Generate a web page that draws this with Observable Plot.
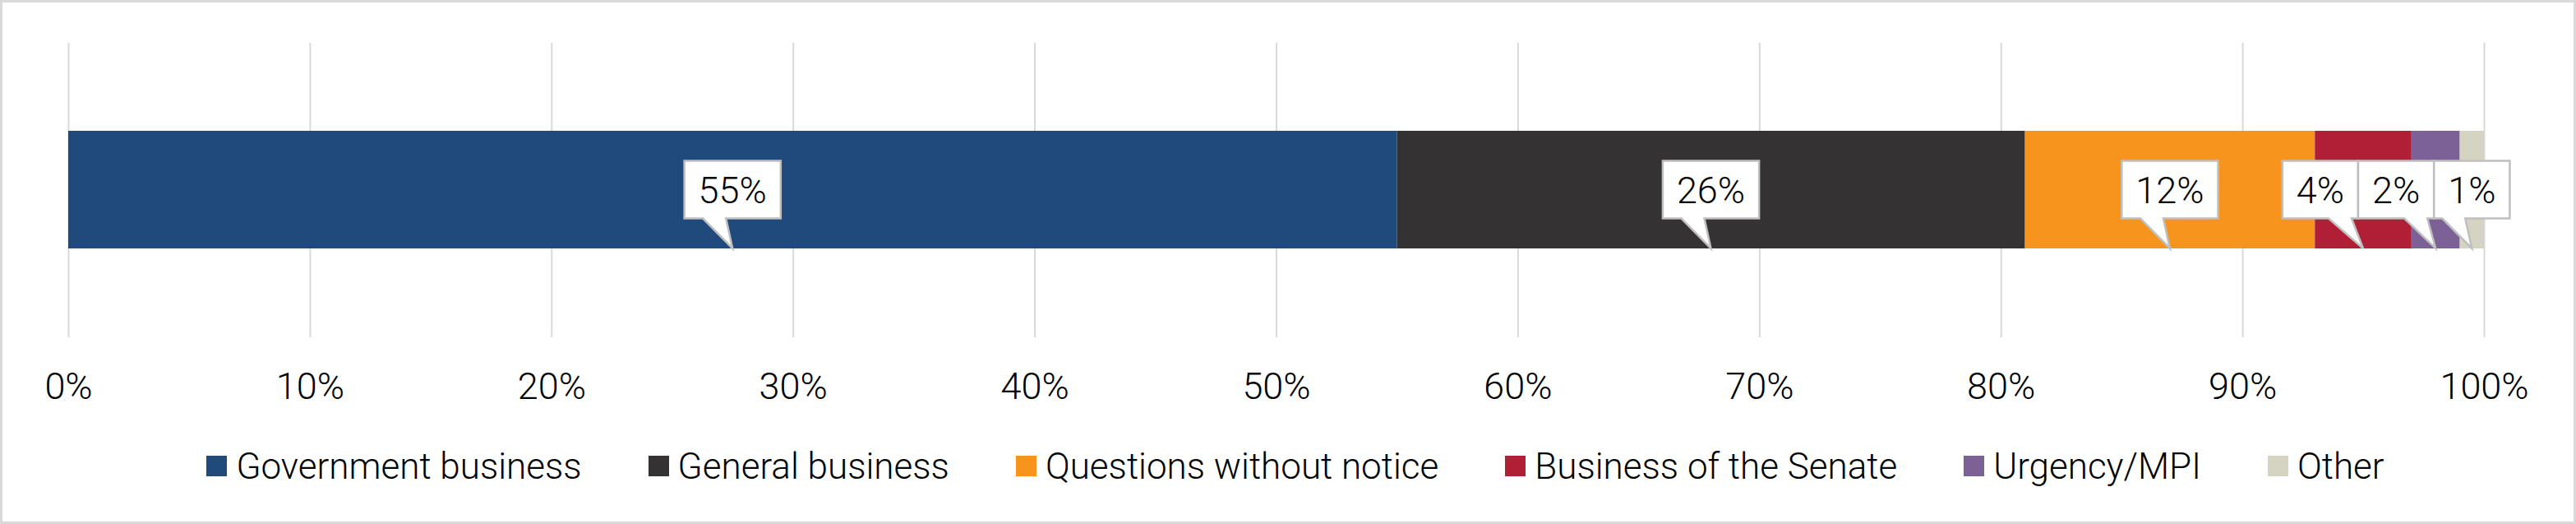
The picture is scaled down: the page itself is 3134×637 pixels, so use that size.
<!DOCTYPE html>
<html>
<head>
<meta charset="utf-8">
<script src="https://cdn.jsdelivr.net/npm/d3@7"></script>
<script src="https://cdn.jsdelivr.net/npm/@observablehq/plot@0.6"></script>
<style>
  html, body { margin: 0; padding: 0; background: #fff; }
  #frame {
    position: relative; width: 3134px; height: 637px; box-sizing: border-box;
    border: 3px solid #d9d9d9; background: #fff; overflow: hidden;
    font-family: Roboto, "Liberation Sans", Arial, sans-serif; font-weight: 300; color: #000;
  }
  #chart { position: absolute; left: 0; top: 0; }
  #legend {
    position: absolute; left: 0; right: 0; top: 551px; height: 25px;
    display: flex; justify-content: center; align-items: center;
    padding-left: 18px; font-size: 44px; line-height: 1;
  }
  .item { display: flex; align-items: center; margin-right: 81px; white-space: nowrap; }
  .item:last-child { margin-right: 0; }
  .sw { width: 25px; height: 25px; margin-right: 11px; flex: none; }
</style>
</head>
<body>
<div id="frame">
  <div id="chart"></div>
  <div id="legend"></div>
</div>
<script>
// ---- data ----
const categories = ["Government business", "General business", "Questions without notice", "Business of the Senate", "Urgency/MPI", "Other"];
const shares = [55, 26, 12, 4, 2, 1];
const colors = ["#214a7c", "#343233", "#f7941e", "#b01f35", "#7b6195", "#d5d3c1"];
const xTicks = [0, 10, 20, 30, 40, 50, 60, 70, 80, 90, 100];
const rowName = "row";

const rows = categories.map((c, i) => ({category: c, share: shares[i], row: rowName}));
const FONT = "Roboto, Liberation Sans, Arial, sans-serif";

const plot = Plot.plot({
  width: 3128,
  height: 497,
  marginLeft: 80,
  marginRight: 109,
  marginTop: 49,
  marginBottom: 90,
  style: {fontFamily: FONT, fontWeight: 300, fontSize: "45px", color: "#000", background: "transparent"},
  x: {domain: [0, 100], axis: null},
  y: {domain: [rowName], padding: 0.4265, axis: null},
  color: {domain: categories, range: colors},
  marks: [
    Plot.gridX(xTicks, {stroke: "#d9d9d9", strokeWidth: 2, strokeOpacity: 1}),
    Plot.axisX({ticks: xTicks, tickFormat: d => d + "%", tickSize: 0, tickPadding: 43, fill: "#000", fontSize: 45, label: null}),
    Plot.barX(rows, Plot.stackX({x: "share", y: "row", fill: "category", order: null}))
  ]
});
document.getElementById("chart").appendChild(plot);

// ---- callouts (positioned through Plot's scales) ----
const xs = plot.scale("x"), ys = plot.scale("y");
const bandTop = ys.apply(rowName), bw = ys.bandwidth;
const barBottom = bandTop + bw, midY = bandTop + bw / 2;
const cum = d3.cumsum(shares);
const mids = shares.map((s, i) => cum[i] - s / 2);
const tips = mids.map(m => xs.apply(m));

const svg = d3.select(plot);
const g = svg.append("g").attr("class", "callouts");
const boxH = 70, padX = 17;
const labels = shares.map(s => s + "%");
const meas = g.append("text").attr("font-size", 45).attr("font-family", FONT).attr("font-weight", 300);
const widths = labels.map(t => { meas.text(t); return meas.node().getComputedTextLength() + 2 * padX; });
meas.remove();
const centres = new Array(shares.length);
for (let i = shares.length - 1; i >= 0; i--) {
  let c = tips[i];
  if (i < shares.length - 1) {
    const nextLeft = centres[i + 1] - widths[i + 1] / 2;
    c = Math.min(c, nextLeft - widths[i] / 2);
  }
  centres[i] = c;
}
labels.forEach((t, i) => {
  const L = centres[i] - widths[i] / 2, R = centres[i] + widths[i] / 2;
  const T = midY - boxH / 2, B = midY + boxH / 2;
  const br = Math.min(tips[i] - 8, R - 8);
  const bl = Math.max(br - 28, L + 4);
  const path = `M${L},${T}H${R}V${B}H${br}L${tips[i]},${barBottom}L${bl},${B}H${L}Z`;
  g.append("path").attr("d", path).attr("fill", "#fff").attr("stroke", "#bfbfbf").attr("stroke-width", 2.5).attr("stroke-linejoin", "miter");
  g.append("text").attr("x", centres[i]).attr("y", midY).attr("dy", "0.36em")
    .attr("text-anchor", "middle").attr("font-size", 45).attr("font-family", FONT).attr("font-weight", 300).attr("fill", "#000").text(t);
});

// ---- legend ----
const legend = document.getElementById("legend");
categories.forEach((c, i) => {
  const it = document.createElement("div"); it.className = "item";
  const sw = document.createElement("span"); sw.className = "sw"; sw.style.background = colors[i];
  const tx = document.createElement("span"); tx.textContent = c;
  it.appendChild(sw); it.appendChild(tx); legend.appendChild(it);
});
</script>
</body>
</html>
